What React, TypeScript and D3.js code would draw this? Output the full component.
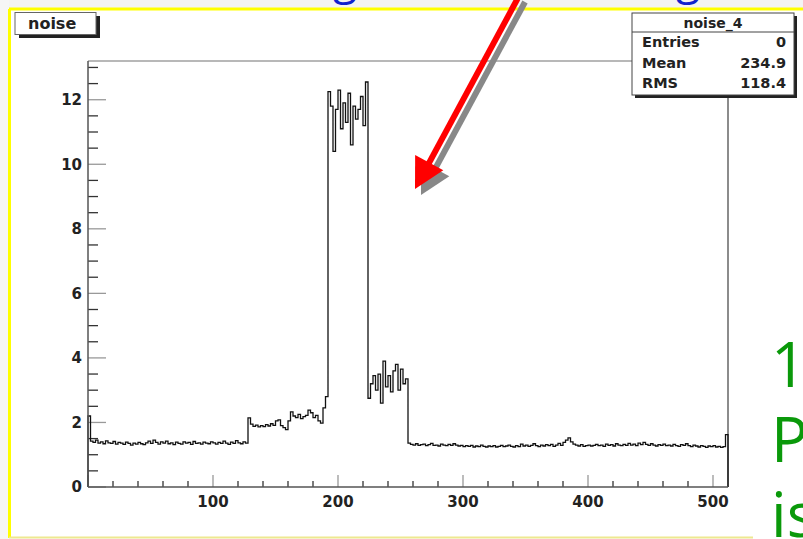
import React from 'react';
import * as d3 from 'd3';

// bin width 2, channel values
const binWidth = 2;
const baseline1 = [
  2.20, 1.42, 1.38, 1.45, 1.36, 1.40, 1.34, 1.43,
  1.37, 1.35, 1.41, 1.33, 1.38, 1.36, 1.32, 1.39,
  1.35, 1.30, 1.36, 1.33, 1.38, 1.34, 1.31, 1.37,
  1.42, 1.35, 1.45, 1.38, 1.33, 1.40, 1.36, 1.42,
  1.34, 1.37, 1.31, 1.39, 1.35, 1.33, 1.40, 1.36,
  1.38, 1.32, 1.41, 1.35, 1.37, 1.33, 1.39, 1.36,
  1.34, 1.40, 1.37, 1.33, 1.38, 1.35, 1.42, 1.36,
  1.32, 1.39, 1.35, 1.44, 1.37, 1.34, 1.40, 1.36
];
const shoulder = [
  2.14, 1.95, 1.88, 1.92, 1.86, 1.90, 1.87, 1.93,
  1.89, 1.96, 1.91, 2.05, 2.08, 1.90, 1.84, 1.78,
  2.05, 2.33, 2.20, 2.15, 2.25, 2.12, 2.18, 2.22,
  2.38, 2.30, 2.15, 2.22, 2.05, 1.98, 2.45, 2.80
];
const peak = [
  12.25, 11.8, 10.4, 11.7, 12.3, 11.1, 11.9, 11.3,
  12.2, 10.6, 11.8, 11.4, 11.7, 12.1, 11.2, 12.55
];
const tail = [
  2.75, 3.2, 3.45, 3.0, 3.5, 2.6, 3.9, 3.1,
  3.45, 2.95, 3.6, 3.8, 3.0, 3.65, 3.2, 3.35
];
const baseline2 = [
  1.36, 1.32, 1.30, 1.34, 1.29, 1.31, 1.33, 1.28,
  1.31, 1.35, 1.29, 1.30, 1.27, 1.33, 1.30, 1.28,
  1.32, 1.29, 1.34, 1.30, 1.27, 1.29, 1.25, 1.28,
  1.26, 1.29, 1.24, 1.27, 1.25, 1.30, 1.26, 1.24,
  1.27, 1.25, 1.28, 1.24, 1.26, 1.29, 1.25, 1.27,
  1.30, 1.26, 1.24, 1.28, 1.25, 1.33, 1.27, 1.30,
  1.26, 1.29, 1.34, 1.28, 1.25, 1.30, 1.27, 1.31,
  1.28, 1.32, 1.26, 1.30, 1.35, 1.29, 1.38, 1.45,
  1.52, 1.40, 1.33, 1.30, 1.27, 1.31, 1.26, 1.28,
  1.30, 1.27, 1.29, 1.32, 1.28, 1.30, 1.26, 1.33,
  1.29, 1.31, 1.27, 1.34, 1.30, 1.28, 1.32, 1.29,
  1.35, 1.30, 1.33, 1.28, 1.36, 1.31, 1.38, 1.32,
  1.29, 1.34, 1.30, 1.27, 1.31, 1.29, 1.33, 1.28,
  1.30, 1.27, 1.32, 1.28, 1.26, 1.31, 1.29, 1.34,
  1.28, 1.25, 1.30, 1.27, 1.24, 1.28, 1.26, 1.23,
  1.27, 1.25, 1.28, 1.24, 1.26, 1.23, 1.25, 1.62
];

const xTickLabels = [100, 200, 300, 400, 500];
const yTickLabels = [0, 2, 4, 6, 8, 10, 12];
const statLabels = ['Entries', 'Mean', 'RMS'];
const statValues = ['0', '234.9', '118.4'];
const histTitle = 'noise';
const statsTitle = 'noise_4';
const slideLines = ['1', 'P', 'is'];

const W = 803, H = 539;
const tickFont = 'DejaVu Sans, sans-serif';

export default function App() {
  const x = d3.scaleLinear().domain([0, 512]).range([88, 728]);
  const y = d3.scaleLinear().domain([0, 13.2]).range([487, 61]);

  const values = [...baseline1, ...shoulder, ...peak, ...tail, ...baseline2];
  const pts: [number, number][] = [[0, 0]];
  values.forEach((v, i) => pts.push([i * binWidth, v]));
  const last = values[values.length - 1];
  pts.push([values.length * binWidth, last]);
  pts.push([values.length * binWidth, 0]);

  const line = d3.line<[number, number]>()
    .x(d => x(d[0]))
    .y(d => y(d[1]))
    .curve(d3.curveStepAfter);

  const yTicks = d3.range(0, 13.01, 0.5);
  const xTicks = d3.range(0, 512, 20);

  // arrow geometry
  const tip = [415, 189];
  const tail0 = [519, -4];
  const dx = tip[0] - tail0[0], dy = tip[1] - tail0[1];
  const len = Math.hypot(dx, dy);
  const ux = dx / len, uy = dy / len;
  const nx = -uy, ny = ux;
  const hl = 30, hw = 16;
  const bx = tip[0] - ux * hl, by = tip[1] - uy * hl;
  const head = (ox: number, oy: number) =>
    `M${tip[0] + ox},${tip[1] + oy} L${bx + nx * hw + ox},${by + ny * hw + oy} L${bx - nx * hw + ox},${by - ny * hw + oy} Z`;

  return (
    <svg width={W} height={H} style={{ position: 'absolute', left: 0, top: 0 }}>
      <rect x={0} y={0} width={W} height={H} fill="#ffffff" />
      <rect x={0} y={0} width={W} height={9} fill="#f4f4f4" />
      <rect x={0} y={0} width={9} height={H} fill="#f6f6f6" />

      {/* cut-off slide heading */}
      <text x={333} y={-6} fontFamily="Open Sans, sans-serif" fontSize={44} fill="#1122cc">g</text>
      <text x={676} y={-6} fontFamily="Open Sans, sans-serif" fontSize={44} fill="#1122cc">g</text>

      {/* yellow panel frame */}
      <line x1={9} x2={W} y1={9} y2={9} stroke="#ffff00" strokeWidth={3} />
      <line x1={9.5} x2={9.5} y1={9} y2={538} stroke="#ffff00" strokeWidth={3} />
      <line x1={9} x2={753} y1={537.5} y2={537.5} stroke="#eee890" strokeWidth={2} />

      {/* frame */}
      <line x1={88} x2={728} y1={61} y2={61} stroke="#b8b8b8" strokeWidth={2} />
      <line x1={728} x2={728} y1={61} y2={487} stroke="#666" strokeWidth={1.5} />

      {/* y ticks */}
      {yTicks.map(t => {
        const major = Math.abs(t % 2) < 1e-6;
        return (
          <line key={'y' + t} x1={88} x2={88 + (major ? 18 : 10)} y1={y(t)} y2={y(t)}
            stroke={major ? '#999' : '#333'} strokeWidth={1.3} />
        );
      })}
      {/* x ticks */}
      {xTicks.map(t => {
        const major = t % 100 === 0;
        return (
          <line key={'x' + t} x1={x(t)} x2={x(t)} y1={487} y2={487 - (major ? 12 : 6)}
            stroke={major ? '#999' : '#333'} strokeWidth={1.3} />
        );
      })}

      {/* histogram */}
      <path d={line(pts) || ''} fill="none" stroke="#111" strokeWidth={1.3} />

      {/* axes */}
      <line x1={88} x2={88} y1={61} y2={487} stroke="#555" strokeWidth={1.5} />
      <line x1={88} x2={728} y1={487} y2={487} stroke="#555" strokeWidth={1.5} />

      {yTickLabels.map(t => (
        <text key={'yl' + t} x={82} y={y(t)} dy="0.36em" textAnchor="end"
          fontFamily={tickFont} fontWeight="bold" fontSize={15} fill="#222">{t}</text>
      ))}
      {xTickLabels.map(t => (
        <text key={'xl' + t} x={x(t)} y={507} textAnchor="middle"
          fontFamily={tickFont} fontWeight="bold" fontSize={15} fill="#222">{t}</text>
      ))}

      {/* title box */}
      <rect x={19} y={16} width={81} height={22} fill="#222" />
      <rect x={15} y={12.5} width={81} height={22} fill="#fff" stroke="#666" strokeWidth={1} />
      <text x={28} y={29} fontFamily={tickFont} fontWeight="bold" fontSize={16} fill="#222">{histTitle}</text>

      {/* stats box */}
      <rect x={635} y={16} width={162} height={82} fill="#222" />
      <rect x={632} y={13} width={162} height={82} fill="#fff" stroke="#444" strokeWidth={1} />
      <line x1={632} x2={794} y1={32} y2={32} stroke="#444" strokeWidth={1} />
      <text x={713} y={28} textAnchor="middle" fontFamily={tickFont} fontWeight="bold" fontSize={14} fill="#222">{statsTitle}</text>
      {statLabels.map((s, i) => (
        <g key={s}>
          <text x={642} y={47 + i * 20.7} fontFamily={tickFont} fontWeight="bold" fontSize={14.5} fill="#222">{s}</text>
          <text x={786} y={47 + i * 20.7} textAnchor="end" fontFamily={tickFont} fontWeight="bold" fontSize={14.5} fill="#222">{statValues[i]}</text>
        </g>
      ))}

      {/* arrow with shadow */}
      <line x1={tail0[0] + 6} y1={tail0[1] + 6} x2={bx + 6 + ux * 4} y2={by + 6 + uy * 4} stroke="#888" strokeWidth={6} />
      <path d={head(6, 6)} fill="#888" />
      <line x1={tail0[0]} y1={tail0[1]} x2={bx + ux * 4} y2={by + uy * 4} stroke="#ff0000" strokeWidth={6} />
      <path d={head(0, 0)} fill="#ff0000" />

      {/* slide text at right */}
      {slideLines.map((s, i) => (
        <text key={s} x={771} y={387 + i * 75} fontFamily="Open Sans, sans-serif" fontSize={62} fill="#0a990a">{s}</text>
      ))}
    </svg>
  );
}
